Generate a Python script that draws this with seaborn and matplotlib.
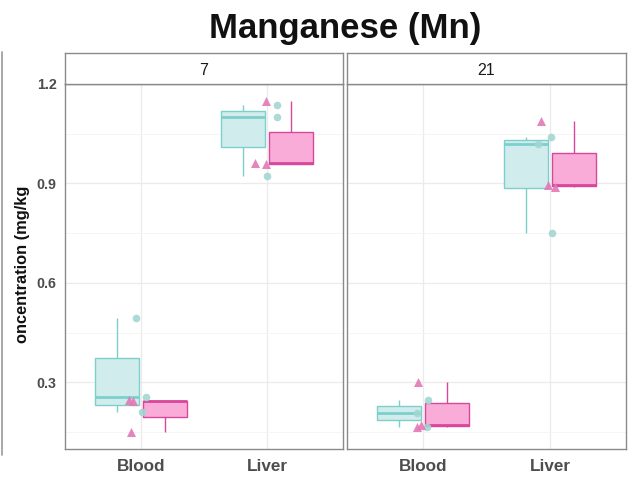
import numpy as np
import pandas as pd
import matplotlib
matplotlib.use("Agg")
import matplotlib.pyplot as plt
from matplotlib.lines import Line2D
import seaborn as sns

# ---- data ----
days = ["7", "21"]
tissues = ["Blood", "Liver"]
groups = ["Control", "Treated"]
conc_7_blood_control = [0.211, 0.254, 0.494]
conc_7_blood_treated = [0.149, 0.243, 0.245]
conc_7_liver_control = [0.921, 1.100, 1.138]
conc_7_liver_treated = [0.958, 0.962, 1.150]
conc_21_blood_control = [0.166, 0.208, 0.246]
conc_21_blood_treated = [0.165, 0.171, 0.301]
conc_21_liver_control = [0.750, 1.020, 1.040]
conc_21_liver_treated = [0.888, 0.894, 1.088]
ytick_values = [0.3, 0.6, 0.9, 1.2]

series = {
    ("7", "Blood", "Control"): conc_7_blood_control,
    ("7", "Blood", "Treated"): conc_7_blood_treated,
    ("7", "Liver", "Control"): conc_7_liver_control,
    ("7", "Liver", "Treated"): conc_7_liver_treated,
    ("21", "Blood", "Control"): conc_21_blood_control,
    ("21", "Blood", "Treated"): conc_21_blood_treated,
    ("21", "Liver", "Control"): conc_21_liver_control,
    ("21", "Liver", "Treated"): conc_21_liver_treated,
}
rows = []
for (d, t, g), vals in series.items():
    for v in vals:
        rows.append(dict(day=d, tissue=t, group=g, conc=v))
df = pd.DataFrame(rows)

# ---- style ----
sns.set_style("white")
plt.rcParams["font.family"] = ["Liberation Sans", "DejaVu Sans"]

fill_c = {"Control": "#d1ecec", "Treated": "#f9acd7"}
edge_c = {"Control": "#7ccfcb", "Treated": "#d8479a"}
pt_c = {"Control": "#a3d6d2", "Treated": "#e278b6"}
markers = {"Control": "o", "Treated": "^"}

W, H = 631, 479
fig = plt.figure(figsize=(W / 100, H / 100), dpi=100)

panel_x = [(65, 278), (347, 279)]
y_bot, y_top = 449, 84
strip_top = 53
frame_c = "#8a8a8a"

np.random.seed(3)
for i, d in enumerate(days):
    x0, w = panel_x[i]
    ax = fig.add_axes([x0 / W, 1 - y_bot / H, w / W, (y_bot - y_top) / H])
    sub = df[df.day == d]
    for g in groups:
        sg = sub[sub.group == g]
        sns.boxplot(data=sg, x="tissue", y="conc", hue="group",
                    order=tissues, hue_order=groups,
                    palette={k: fill_c[g] for k in groups}, saturation=1,
                    linecolor=edge_c[g], linewidth=1.0,
                    width=0.76, gap=0.08, dodge=True, whis=np.inf,
                    medianprops={"color": edge_c[g], "linewidth": 2.0},
                    capprops={"visible": False},
                    showfliers=False, legend=False, ax=ax)
    for g in groups:
        sg = sub[sub.group == g]
        sns.stripplot(data=sg, x="tissue", y="conc", order=tissues,
                      color=pt_c[g], marker=markers[g], size=6.5 if g == "Treated" else 5.5,
                      jitter=0.1, alpha=0.9, linewidth=0, legend=False, ax=ax, zorder=5)
    ax.set_xlim(-0.6, 1.6)
    ax.set_ylim(0.0985, 1.2)
    ax.set_yticks(ytick_values)
    ax.set_yticks([0.15, 0.45, 0.75, 1.05], minor=True)
    ax.set_xticks([0, 1])
    ax.set_xticklabels(tissues, fontsize=12.3, fontweight="bold", color="#4d4d4d")
    ax.set_axisbelow(True)
    ax.grid(which="major", axis="both", color="#ebebeb", linewidth=0.9)
    ax.grid(which="minor", axis="y", color="#f4f4f4", linewidth=0.6)
    ax.set_xlabel("")
    ax.set_ylabel("")
    for s in ax.spines.values():
        s.set_color(frame_c)
        s.set_linewidth(1.0)
    ax.tick_params(axis="x", which="major", length=3, color=frame_c, pad=4)
    ax.tick_params(axis="y", which="minor", length=0)
    if i == 0:
        ax.set_yticklabels([f"{v:.1f}" for v in ytick_values], fontsize=10.3,
                           fontweight="bold", color="#4d4d4d")
        ax.tick_params(axis="y", which="major", length=4, color=frame_c, pad=2)
    else:
        ax.tick_params(axis="y", which="major", length=0, labelleft=False)
    # strip
    sax = fig.add_axes([x0 / W, 1 - y_top / H, w / W, (y_top - strip_top) / H])
    sax.set_xticks([])
    sax.set_yticks([])
    sax.set_facecolor("white")
    for s in sax.spines.values():
        s.set_color(frame_c)
        s.set_linewidth(1.0)
    sax.text(0.5, 0.45, d, ha="center", va="center", fontsize=11.5, color="#1a1a1a",
             transform=sax.transAxes)

fig.text(345 / W, 1 - 38 / H, "Manganese (Mn)", ha="center", va="baseline",
         fontsize=25, fontweight="bold", color="#111111")
fig.text(23 / W, 1 - 264 / H, "oncentration (mg/kg", rotation=90, ha="center",
         va="center", fontsize=11.8, fontweight="bold", color="#111111")
fig.add_artist(Line2D([1.5 / W, 1.5 / W], [1 - 52 / H, 1 - 455 / H],
                      color="#9a9a9a", linewidth=1.2))

fig.savefig("out.png", dpi=100)
